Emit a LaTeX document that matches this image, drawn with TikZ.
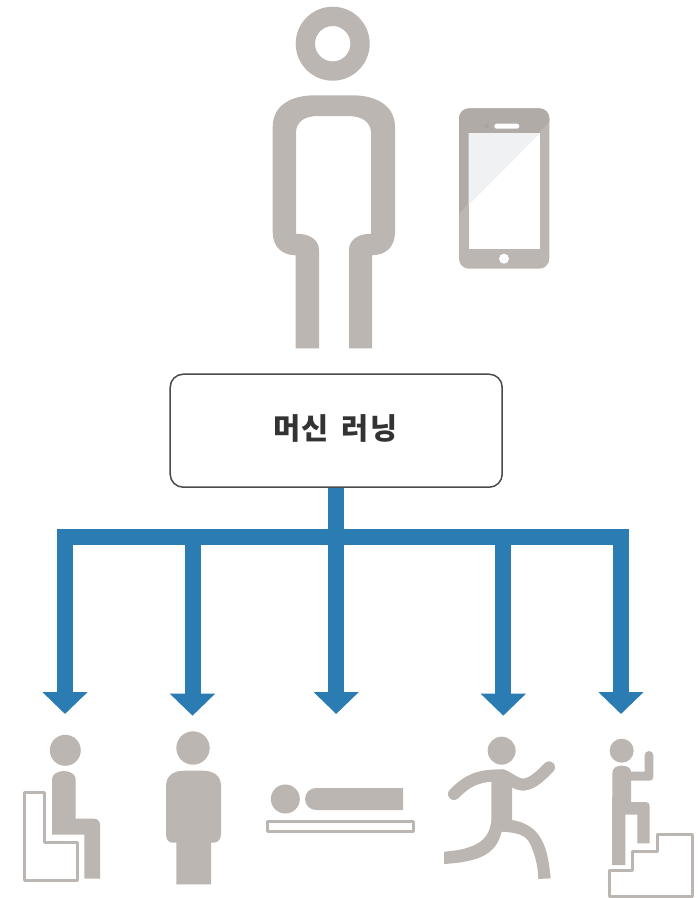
\documentclass[tikz,border=0pt]{standalone}
\usepackage{fontspec}
\newfontfamily\cjk[LetterSpace=4,WordSpace=1.6]{Noto Sans CJK KR}
\usetikzlibrary{arrows.meta}
\definecolor{icon}{HTML}{BCB6B2}
\definecolor{icondark}{HTML}{B1ABA7}
\definecolor{screenlight}{HTML}{F0F1F3}
\definecolor{flow}{HTML}{2B7CB3}
\definecolor{ink}{HTML}{333333}
\definecolor{frame}{HTML}{4A4A4A}
\tikzset{
  iconline/.style={draw=icon,line width=3pt,fill=none,line join=round},
  limb/.style={draw=icon,line width=12pt,line cap=round},
  flowline/.style={draw=flow,line width=16pt,line join=miter},
  flowarrow/.style={flowline,-{Triangle[width=44pt,length=22pt]}},
  flowboth/.style={flowline,{Triangle[width=44pt,length=22pt]}-{Triangle[width=44pt,length=22pt]}},
  mainbox/.style={draw=frame,line width=1.5pt,fill=white,rounded corners=13pt,minimum width=332pt,minimum height=113pt,inner sep=0pt},
  titletext/.style={text=ink,font=\cjk\bfseries\fontsize{29.5}{31}\selectfont,inner sep=0pt},
  zoomR/.style={x=0.33333pt,y=-0.33333pt,shift={(348pt,-680pt)}}
}
\begin{document}
\begin{tikzpicture}[x=1pt,y=-1pt]
\useasboundingbox (0,0) rectangle (698,898);
% person
\fill[icon,even odd rule] (332.7,43.7) circle[radius=37] (332.7,43.7) circle[radius=17.7];
\fill[icon] (295.7,348.3) -- (295.7,255.3) .. controls (282,255) and (272.7,247) .. (272.7,232)
  -- (272.7,127) .. controls (272.7,106) and (290,95.3) .. (315,95.3) -- (352,95.3)
  .. controls (377,95.3) and (395,106) .. (395,127) -- (395,232)
  .. controls (395,247) and (386,255) .. (372,255.3) -- (372,348.3) -- (349,348.3) -- (349,250)
  .. controls (349,240) and (358,233.7) .. (371,233.7) -- (371,133)
  .. controls (371,122) and (362,116) .. (348,116) -- (318,116)
  .. controls (304,116) and (296,122) .. (296,133) -- (296,233.7)
  .. controls (310,233.7) and (319,240) .. (319,250) -- (319,348.3) -- cycle;
% phone
\fill[icon,rounded corners=10pt] (459,108.3) rectangle (549.3,268.7);
\begin{scope}
  \clip[rounded corners=10pt] (459,108.3) rectangle (549.3,268.7);
  \fill[icondark] (459,108.3) -- (549.3,108.3) -- (549.3,121.7) -- (459,213.3) -- cycle;
\end{scope}
\fill[white] (468.7,133) rectangle (540,249);
\fill[screenlight] (468.7,133) -- (540,133) -- (468.7,205) -- cycle;
\fill[white,rounded corners=2.4pt] (494.3,123.7) rectangle (519.3,128.7);
\fill[icon!90!black] (486.7,126) circle[radius=2.5];
\fill[white] (504,258.7) circle[radius=5];
% box and connectors
\node[mainbox] (box) at (336.2,430.7) {};
\node[titletext] (title) at (335.5,428.5) {머신 러닝};
\coordinate (hub) at (336.2,537);
\coordinate (cornerL) at (65,537);
\coordinate (cornerR) at (621,537);
\coordinate (tipA) at (65,714);
\coordinate (tipE) at (621,714);
\coordinate (hubB) at (192.5,537);
\coordinate (tipB) at (192.5,715.7);
\coordinate (hubD) at (503.3,537);
\coordinate (tipD) at (503.3,715.7);
\coordinate (tipC) at (336.2,714);
\draw[flowboth] (tipA) -- (cornerL) -- (cornerR) -- (tipE);
\draw[flowarrow] (hubB) -- (tipB);
\draw[flowarrow] (hubD) -- (tipD);
\draw[flowarrow] (hub) -- (tipC);
\draw[flowline] (box.south) -- (hub);
% sitting
\fill[icon] (65.3,750.3) circle[radius=15.5];
\fill[icon] (52,834.7) -- (52,779) arc[start angle=180,end angle=360,x radius=11.85,y radius=8] -- (75.7,818.7) -- (94,818.7)
  arc[start angle=-90,end angle=0,radius=6] -- (100,878.7) -- (84.3,878.7) -- (84.3,834.7) -- cycle;
\draw[iconline] (24,792) -- (44,792) -- (44,842) -- (77,842) -- (77,880.5) -- (24,880.5) -- cycle;
% standing
\fill[icon] (193,748) circle[radius=16.7];
\fill[icon] (176.3,884.3) -- (176.3,842.7) -- (173,842.7) .. controls (168,842.7) and (166,839) .. (166,834)
  -- (166,786) .. controls (166,776) and (173,770.7) .. (184,770.7) -- (203,770.7)
  .. controls (214,770.7) and (221,776) .. (221,786) -- (221,834) .. controls (221,839) and (218,842.7) .. (214,842.7)
  -- (211,842.7) -- (211,884.3) -- cycle;
% lying
\fill[icon] (285.3,799) circle[radius=14.5];
\fill[icon] (403,788) -- (316,788) arc[start angle=270,end angle=90,radius=11] -- (403,810) -- cycle;
\draw[iconline] (267.5,821.3) rectangle (413.5,831);
% running
\begin{scope}[zoomR]
  \fill[icon] (461,212) circle[radius=42];
  \draw[limb] (318,342) .. controls (360,300) and (390,286) .. (460,286);
  \draw[limb] (465,286) .. controls (490,298) and (505,314) .. (525,314) .. controls (555,312) and (580,285) .. (603,262);
  \fill[icon] (430,290) -- (430,420) .. controls (425,470) and (400,507) .. (288,515) -- (288,552)
     .. controls (400,545) and (445,520) .. (461,455) .. controls (510,458) and (535,465) .. (548,495)
     .. controls (563,530) and (570,560) .. (571,597) -- (608,595) .. controls (600,510) and (585,435) .. (492,420) -- (492,290) -- cycle;
\end{scope}
% climbing
\begin{scope}[zoomR]
  \fill[icon] (821,212) circle[radius=36];
  \fill[icon] (792,555) -- (793,280) .. controls (793,264) and (805,257) .. (820,257) .. controls (838,257) and (849,264) .. (849,275)
    -- (890,275) -- (890,226) arc[start angle=180,end angle=360,radius=13] -- (916,290) .. controls (916,298) and (912,302) .. (905,302)
    -- (849,302) -- (849,366) -- (893,366) .. controls (901,366) and (905,370) .. (905,378) -- (905,490) -- (868,490) -- (868,404) -- (832,404) -- (832,555) -- cycle;
  \draw[iconline] (783,650) -- (783,570) -- (853,570) -- (853,513) -- (929,513) -- (929,462) -- (1034,462) -- (1034,650) -- cycle;
\end{scope}
\end{tikzpicture}
\end{document}
